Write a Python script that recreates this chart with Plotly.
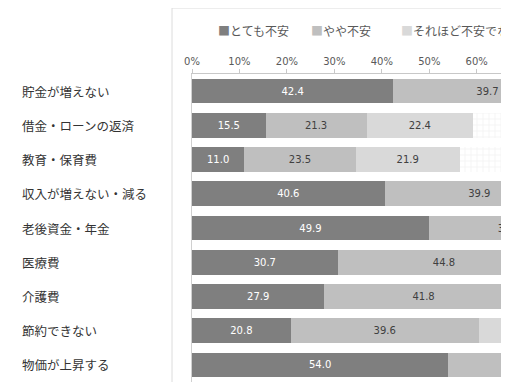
import plotly.graph_objects as go

categories = ["貯金が増えない", "借金・ローンの返済", "教育・保育費", "収入が増えない・減る",
              "老後資金・年金", "医療費", "介護費", "節約できない", "物価が上昇する"]
series_names = ["とても不安", "やや不安", "それほど不安でない", "全く不安でない"]
very_anxious = [42.4, 15.5, 11.0, 40.6, 49.9, 30.7, 27.9, 20.8, 54.0]
somewhat_anxious = [39.7, 21.3, 23.5, 39.9, 33.7, 44.8, 41.8, 39.6, 35.0]
not_very_anxious = [14.6, 22.4, 21.9, 16.0, 13.2, 21.0, 22.5, 31.5, 9.0]
not_anxious = [3.3, 40.8, 43.6, 3.5, 3.2, 3.5, 7.8, 8.1, 2.0]
tick_values = [0, 10, 20, 30, 40, 50, 60]
tick_labels = ["0%", "10%", "20%", "30%", "40%", "50%", "60%"]

colors = ["#7f7f7f", "#bfbfbf", "#d9d9d9", "#ffffff"]
text_colors = ["#ffffff", "#404040", "#404040", "#404040"]
all_values = [very_anxious, somewhat_anxious, not_very_anxious, not_anxious]

# page has an 8px body margin; lay out in page pixels and offset
OFF = 8
W, H = 509 - OFF, 382 - OFF
ML, MT = 192 - OFF, 74 - OFF
PW, PH = W - ML, H - MT

def px_x(p):
    return (p - OFF - ML) / PW

def px_y(p):
    return 1 + (MT - (p - OFF)) / PH

fig = go.Figure()
for i, (name, vals) in enumerate(zip(series_names, all_values)):
    marker = dict(color=colors[i], line=dict(width=0))
    if i == 3:
        marker["pattern"] = dict(shape="+", fgcolor="#d9d9d9", bgcolor="#ffffff",
                                 size=6, solidity=0.15)
    fig.add_trace(go.Bar(
        y=categories, x=vals, name=name, orientation="h",
        marker=marker,
        text=[f"{v:.1f}" for v in vals] if i < 3 else None,
        textposition="inside", insidetextanchor="middle", textangle=0,
        textfont=dict(family="DejaVu Sans", size=10, color=text_colors[i]),
        cliponaxis=True, showlegend=False,
    ))

annotations = []
for c in categories:
    annotations.append(dict(
        x=px_x(20), xref="paper", y=c, yref="y", text=c, showarrow=False,
        xanchor="left", yanchor="middle",
        font=dict(family="Noto Sans CJK JP", size=12.5, color="#333333")))

legend_x = [216, 309, 399, 545]
for i, name in enumerate(series_names):
    annotations.append(dict(
        x=px_x(legend_x[i]), xref="paper", y=px_y(30), yref="paper",
        text=f"<span style='color:{colors[i] if i < 3 else '#d4d4d4'}'>■</span>{name}",
        showarrow=False, xanchor="left", yanchor="middle",
        font=dict(family="Noto Sans CJK JP", size=12, color="#595959")))

shapes = [
    dict(type="line", xref="paper", yref="paper", x0=px_x(172), x1=px_x(172),
         y0=px_y(8), y1=-0.1, line=dict(color="#dcdcdc", width=1)),
    dict(type="line", xref="paper", yref="paper", x0=px_x(172), x1=1.2,
         y0=px_y(8), y1=px_y(8), line=dict(color="#dcdcdc", width=1)),
]

fig.update_layout(
    width=W, height=H,
    margin=dict(l=ML, r=0, t=MT, b=0, pad=0),
    barmode="stack", bargap=0.28,
    plot_bgcolor="#ffffff", paper_bgcolor="#ffffff",
    annotations=annotations, shapes=shapes,
    xaxis=dict(side="top", range=[0, 66.8], tickvals=tick_values, ticktext=tick_labels,
               showgrid=False, zeroline=False, showline=True, linecolor="#c8c8c8",
               ticks="outside", ticklen=4, tickcolor="#c8c8c8",
               tickfont=dict(family="DejaVu Sans", size=10, color="#595959")),
    yaxis=dict(autorange="reversed", showticklabels=False, showgrid=False,
               zeroline=False, showline=True, linecolor="#d0d0d0", ticks=""),
)

fig.write_html("out.html")
